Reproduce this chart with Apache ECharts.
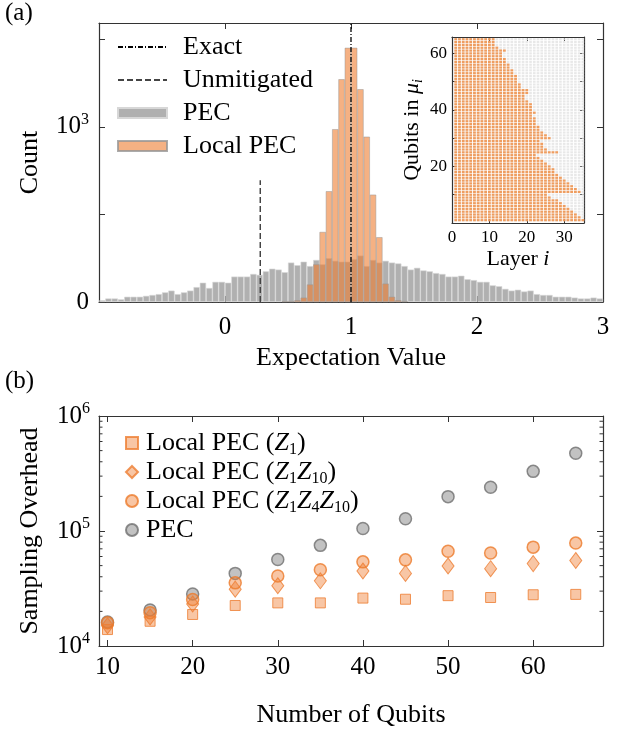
<!DOCTYPE html>
<html>
<head>
<meta charset="utf-8">
<script src="https://cdn.jsdelivr.net/npm/echarts@6/dist/echarts.min.js"></script>
<style>
html, body { margin: 0; padding: 0; background: #fff; }
#chart { width: 636px; height: 729px; }
</style>
</head>
<body>
<div id="chart"></div>
<script>
// ---- (a) histogram: 80 bins of width 0.05 on [-1, 3] ----
const binCenters = Array.from({ length: 80 }, (_, k) => (-0.975 + 0.05 * k).toFixed(3));
const pecCounts = [
  2, 4, 4, 3, 6, 6, 6, 7, 8, 9,
  11, 13, 9, 11, 13, 17, 22, 16, 23, 23,
  22, 29, 29, 29, 32, 31, 35, 38, 37, 34,
  45, 42, 46, 41, 48, 43, 50, 47, 46, 46,
  49, 53, 41, 48, 45, 47, 45, 44, 41, 37,
  39, 36, 35, 33, 32, 29, 29, 30, 26, 25,
  23, 23, 19, 18, 15, 13, 14, 12, 13, 9,
  8, 8, 6, 6, 6, 5, 4, 4, 5, 4
];
const localPecCounts = [
  0, 0, 0, 0, 0, 0, 0, 0, 0, 0,
  0, 0, 0, 0, 0, 0, 0, 0, 0, 0,
  0, 0, 0, 0, 0, 0, 0, 0, 0, 1,
  1, 2, 5, 20, 43, 80, 184, 939, 3491, 7980,
  7980, 2685, 771, 168, 74, 21, 6, 2, 1, 0,
  0, 0, 0, 0, 0, 0, 0, 0, 0, 0,
  0, 0, 0, 0, 0, 0, 0, 0, 0, 0,
  0, 0, 0, 0, 0, 0, 0, 0, 0, 0
];
const exactValue = 1;
const unmitigatedValue = 0.28;
const unmitigatedLineTop = 245;
const countAxisTop = 15300;

// ---- inset: last layer included for qubits 1..65 ----
const layerCount = 35;
const maxLayerPerQubit = [
  35, 34, 33, 32, 31, 30, 29, 28, 26, 25,
  34, 33, 32, 31, 30, 29, 28, 27, 27, 26,
  25, 24, 23, 22, 28, 25, 24, 24, 23, 26,
  25, 24, 23, 23, 22, 22, 22, 21, 22, 21,
  21, 21, 20, 19, 19, 20, 20, 18, 18, 17,
  17, 17, 16, 16, 15, 15, 14, 14, 13, 13,
  14, 12, 11, 11, 11
];

// ---- (b) sampling overhead ----
const qubitCounts = [10, 15, 20, 25, 30, 35, 40, 45, 50, 55, 60, 65];
const overheadZ1 = [13900, 16400, 18800, 22500, 23700, 23700, 26100, 25500, 27400, 26400, 27900, 28100];
const overheadZ1Z10 = [15000, 17900, 23200, 31200, 33400, 36900, 44900, 42800, 49600, 47000, 52100, 55400];
const overheadZ1Z4Z10 = [15900, 19500, 25400, 35400, 40600, 46000, 53900, 56100, 66600, 64400, 72400, 78500];
const overheadPEC = [16200, 20600, 28300, 42800, 56500, 75000, 105000, 128000, 199000, 240000, 330000, 475000];

const FONT = 'Liberation Serif';
const AXIS_COLOR = '#333';

// symmetric-log count axis: linear up to 100, then one tick per decade
function symlog(c) {
  return c <= 100 ? c / 100 : 1 + Math.log10(c / 100);
}

const grayCells = [];
const orangeCells = [];
for (let q = 1; q <= maxLayerPerQubit.length; q++) {
  for (let i = 1; i <= layerCount; i++) {
    grayCells.push([i, q]);
    if (i <= maxLayerPerQubit[q - 1]) orangeCells.push([i, q]);
  }
}

const rich = {
  t: { fontFamily: FONT, fontSize: 26, lineHeight: 30, color: '#000' },
  b: { fontFamily: FONT, fontSize: 25, lineHeight: 30, color: '#000' },
  z: { fontFamily: FONT, fontSize: 26, lineHeight: 30, fontStyle: 'italic', color: '#000' },
  p: { fontFamily: FONT, fontSize: 16, lineHeight: 16, verticalAlign: 'top', color: '#000' },
  s: { fontFamily: FONT, fontSize: 16, lineHeight: 16, verticalAlign: 'bottom', color: '#000' }
};
const smallRich = {
  t: { fontFamily: FONT, fontSize: 22, lineHeight: 25, color: '#000' },
  m: { fontFamily: FONT, fontSize: 22, lineHeight: 25, fontStyle: 'italic', color: '#000' },
  s: { fontFamily: FONT, fontSize: 14, lineHeight: 14, fontStyle: 'italic', verticalAlign: 'bottom', color: '#000' }
};

function boxAxis(extra) {
  return Object.assign({
    axisLine: { show: true, onZero: false, lineStyle: { color: AXIS_COLOR, width: 1.2 } },
    axisTick: { show: true, inside: true, length: 6, lineStyle: { color: AXIS_COLOR } },
    splitLine: { show: false },
    axisLabel: { show: false }
  }, extra);
}

const chart = echarts.init(document.getElementById('chart'));
const yTop = symlog(countAxisTop);

const legendNames = {
  Z1: '{t|Local PEC (}{z|Z}{s|1}{t|)}',
  Z1Z10: '{t|Local PEC (}{z|Z}{s|1}{z|Z}{s|10}{t|)}',
  Z1Z4Z10: '{t|Local PEC (}{z|Z}{s|1}{z|Z}{s|4}{z|Z}{s|10}{t|)}',
  'PEC scatter': '{t|PEC}'
};

const option = {
  animation: false,
  backgroundColor: '#fff',
  grid: [
    { left: 99, top: 23, width: 504, height: 279 },
    { left: 452, top: 37, width: 132, height: 186, show: true, backgroundColor: '#fff', borderWidth: 0 },
    { left: 99, top: 416, width: 504, height: 233 }
  ],
  legend: [
    {
      orient: 'vertical', left: 112, top: 29, itemWidth: 49, itemHeight: 10, itemGap: 7,
      selectedMode: false,
      data: ['Exact', 'Unmitigated', { name: 'PEC', icon: 'rect' }, { name: 'Local PEC', icon: 'rect' }],
      formatter: n => '{t|' + n + '}',
      textStyle: { rich: rich, padding: [0, 0, 0, 11] }
    },
    {
      orient: 'vertical', left: 120, top: 425, itemWidth: 12, itemHeight: 12, itemGap: 1,
      selectedMode: false,
      data: ['Z1', 'Z1Z10', 'Z1Z4Z10', 'PEC scatter'],
      formatter: n => legendNames[n],
      textStyle: { rich: rich, padding: [0, 0, 0, 3] }
    }
  ],
  xAxis: [
    { type: 'category', gridIndex: 0, data: binCenters, show: false, boundaryGap: true },
    boxAxis({
      type: 'value', gridIndex: 0, min: -1, max: 3, interval: 1, position: 'bottom',
      axisLabel: { show: true, showMinLabel: false, fontFamily: FONT, fontSize: 25, color: '#000', margin: 13 },
      name: 'Expectation Value', nameLocation: 'middle', nameGap: 43,
      nameTextStyle: { fontFamily: FONT, fontSize: 26, color: '#000' }
    }),
    boxAxis({ type: 'value', gridIndex: 0, min: -1, max: 3, interval: 1, position: 'top' }),
    boxAxis({
      type: 'value', gridIndex: 1, min: 0, max: 35.3, interval: 10, position: 'bottom',
      axisTick: { show: true, inside: true, length: 4, lineStyle: { color: AXIS_COLOR } },
      axisLabel: { show: true, showMaxLabel: false, fontFamily: FONT, fontSize: 17, color: '#000', margin: 6 },
      name: '{t|Layer }{m|i}', nameLocation: 'middle', nameGap: 24,
      nameTextStyle: { rich: smallRich }
    }),
    boxAxis({
      type: 'value', gridIndex: 1, min: 0, max: 35.3, interval: 10, position: 'top',
      axisTick: { show: true, inside: true, length: 4, lineStyle: { color: AXIS_COLOR } }
    }),
    boxAxis({
      type: 'value', gridIndex: 2, min: 9, max: 68.2, position: 'bottom',
      axisTick: { show: true, inside: true, length: 6, customValues: [10, 20, 30, 40, 50, 60], lineStyle: { color: AXIS_COLOR } },
      axisLabel: { show: true, customValues: [10, 20, 30, 40, 50, 60], fontFamily: FONT, fontSize: 25, color: '#000', margin: 9 },
      name: 'Number of Qubits', nameLocation: 'middle', nameGap: 56,
      nameTextStyle: { fontFamily: FONT, fontSize: 26, color: '#000' }
    }),
    boxAxis({
      type: 'value', gridIndex: 2, min: 9, max: 68.2, position: 'top',
      axisTick: { show: true, inside: true, length: 6, customValues: [10, 20, 30, 40, 50, 60], lineStyle: { color: AXIS_COLOR } }
    })
  ],
  yAxis: [
    boxAxis({
      type: 'value', gridIndex: 0, min: 0, max: yTop, interval: 1, position: 'left',
      axisLabel: {
        show: true, margin: 10,
        formatter: v => (v === 0 ? '{b|0}' : (Math.abs(v - 2) < 1e-9 ? '{b|10}{p|3}' : '')),
        rich: rich
      },
      name: 'Count', nameLocation: 'middle', nameGap: 56,
      nameTextStyle: { fontFamily: FONT, fontSize: 26, color: '#000' }
    }),
    boxAxis({ type: 'value', gridIndex: 0, min: 0, max: yTop, interval: 1, position: 'right' }),
    boxAxis({
      type: 'value', gridIndex: 1, min: 0, max: 65.8, interval: 10, position: 'left',
      axisTick: { show: true, inside: true, length: 4, lineStyle: { color: AXIS_COLOR } },
      axisLabel: {
        show: true, margin: 5, fontFamily: FONT, fontSize: 17, color: '#000',
        formatter: v => (v > 0 && v % 20 === 0 ? String(v) : '')
      },
      name: '{t|Qubits in }{m|μ}{s|i}', nameLocation: 'middle', nameGap: 27,
      nameTextStyle: { rich: smallRich }
    }),
    boxAxis({
      type: 'value', gridIndex: 1, min: 0, max: 65.8, interval: 10, position: 'right',
      axisTick: { show: true, inside: true, length: 4, lineStyle: { color: AXIS_COLOR } }
    }),
    boxAxis({
      type: 'log', logBase: 10, gridIndex: 2, min: 1e4, max: 1e6, position: 'left',
      axisLabel: {
        show: true, margin: 9,
        formatter: v => '{b|10}{p|' + Math.round(Math.log10(v)) + '}',
        rich: rich
      },
      name: 'Sampling Overhead', nameLocation: 'middle', nameGap: 56,
      nameTextStyle: { fontFamily: FONT, fontSize: 26, color: '#000' }
    }),
    boxAxis({ type: 'log', logBase: 10, gridIndex: 2, min: 1e4, max: 1e6, position: 'right' })
  ],
  series: [
    {
      name: 'PEC', type: 'bar', xAxisIndex: 0, yAxisIndex: 0,
      barWidth: '100%', barGap: '-100%',
      itemStyle: { color: 'rgba(128,128,128,0.62)', borderColor: 'rgba(215,215,215,1)', borderWidth: 0.6 },
      data: pecCounts.map(c => (c > 0 ? symlog(c) : null)),
      z: 2
    },
    {
      name: 'Local PEC', type: 'bar', xAxisIndex: 0, yAxisIndex: 0,
      barWidth: '100%', barGap: '-100%',
      itemStyle: { color: 'rgba(238,125,49,0.6)', borderColor: 'rgba(150,150,150,0.8)', borderWidth: 0.6 },
      data: localPecCounts.map(c => (c > 0 ? symlog(c) : null)),
      z: 3
    },
    {
      name: 'Exact', type: 'line', xAxisIndex: 1, yAxisIndex: 0, symbol: 'none',
      itemStyle: { color: 'rgba(0,0,0,0)' },
      lineStyle: { color: '#000', width: 1.3, type: [5, 2, 1, 2] },
      data: [[exactValue, 0], [exactValue, yTop]],
      z: 5
    },
    {
      name: 'Unmitigated', type: 'line', xAxisIndex: 1, yAxisIndex: 0, symbol: 'none',
      itemStyle: { color: 'rgba(0,0,0,0)' },
      lineStyle: { color: '#444', width: 1.5, type: [6, 3] },
      data: [[unmitigatedValue, 0], [unmitigatedValue, symlog(unmitigatedLineTop)]],
      z: 5
    },
    {
      name: 'cells', type: 'scatter', xAxisIndex: 3, yAxisIndex: 2,
      symbol: 'rect', symbolSize: [2.6, 2.1], silent: true,
      itemStyle: { color: '#e2e2e2' },
      data: grayCells, z: 6
    },
    {
      name: 'included', type: 'scatter', xAxisIndex: 3, yAxisIndex: 2,
      symbol: 'rect', symbolSize: [2.8, 2.2], silent: true,
      itemStyle: { color: '#f08a3c' },
      data: orangeCells, z: 7
    },
    {
      name: 'PEC scatter', type: 'scatter', xAxisIndex: 5, yAxisIndex: 4,
      symbol: 'circle', symbolSize: 12,
      itemStyle: { color: 'rgba(128,128,128,0.6)', borderColor: '#6f6f6f', borderWidth: 1.5 },
      data: qubitCounts.map((n, i) => [n, overheadPEC[i]]), z: 2
    },
    {
      name: 'Z1', type: 'scatter', xAxisIndex: 5, yAxisIndex: 4,
      symbol: 'rect', symbolSize: 10,
      itemStyle: { color: 'rgba(238,125,49,0.55)', borderColor: '#ee7d31', borderWidth: 1 },
      data: qubitCounts.map((n, i) => [n, overheadZ1[i]]), z: 3
    },
    {
      name: 'Z1Z10', type: 'scatter', xAxisIndex: 5, yAxisIndex: 4,
      symbol: 'diamond', symbolSize: [12, 16],
      itemStyle: { color: 'rgba(238,125,49,0.55)', borderColor: '#ee7d31', borderWidth: 1 },
      data: qubitCounts.map((n, i) => [n, overheadZ1Z10[i]]), z: 4
    },
    {
      name: 'Z1Z4Z10', type: 'scatter', xAxisIndex: 5, yAxisIndex: 4,
      symbol: 'circle', symbolSize: 12,
      itemStyle: { color: 'rgba(238,125,49,0.55)', borderColor: '#ec7a2a', borderWidth: 1.5 },
      data: qubitCounts.map((n, i) => [n, overheadZ1Z4Z10[i]]), z: 5
    }
  ]
};

chart.setOption(option);

// log minor ticks (2..9 per decade) on both sides of panel (b)
const gb = option.grid[2];
const minorTicks = [];
[1e4, 1e5].forEach(d => {
  for (let m = 2; m <= 9; m++) {
    const y = chart.convertToPixel({ yAxisIndex: 4 }, m * d);
    minorTicks.push({ type: 'line', silent: true, shape: { x1: gb.left, y1: y, x2: gb.left + 3.5, y2: y }, style: { stroke: AXIS_COLOR, lineWidth: 1 } });
    minorTicks.push({ type: 'line', silent: true, shape: { x1: gb.left + gb.width - 3.5, y1: y, x2: gb.left + gb.width, y2: y }, style: { stroke: AXIS_COLOR, lineWidth: 1 } });
  }
});

chart.setOption({
  graphic: minorTicks.concat([
    { type: 'text', left: 5, top: 1, style: { text: '(a)', font: '25px "' + FONT + '"', fill: '#000' } },
    { type: 'text', left: 5, top: 369, style: { text: '(b)', font: '25px "' + FONT + '"', fill: '#000' } }
  ])
});
</script>
</body>
</html>
